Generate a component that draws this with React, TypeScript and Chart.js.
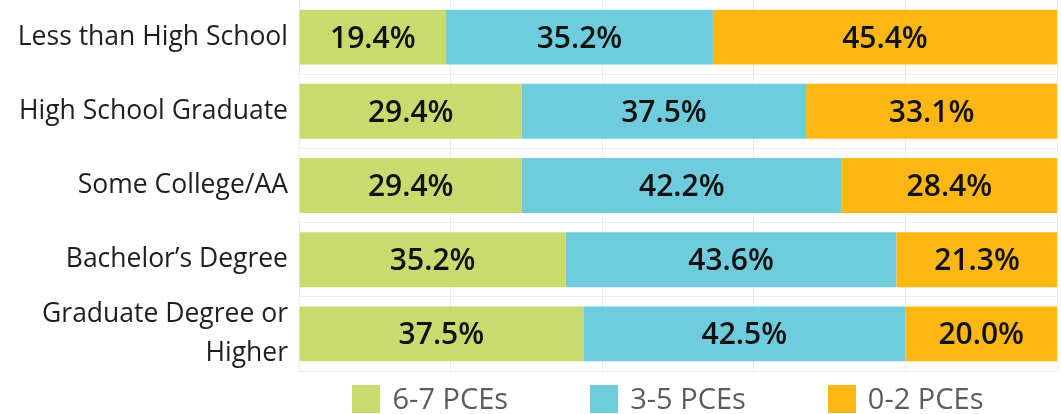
import React, { useEffect, useRef } from 'react';
import { Chart, registerables } from 'chart.js';

Chart.register(...registerables);

const categories: (string | string[])[] = [
  'Less than High School',
  'High School Graduate',
  'Some College/AA',
  'Bachelor’s Degree',
  ['Graduate Degree or', 'Higher'],
];
const seriesNames = ['6-7 PCEs', '3-5 PCEs', '0-2 PCEs'];
const pce67 = [19.4, 29.4, 29.4, 35.2, 37.5];
const pce35 = [35.2, 37.5, 42.2, 43.6, 42.5];
const pce02 = [45.4, 33.1, 28.4, 21.3, 20.0];
const seriesColors = ['#C9DB6E', '#6FCCDD', '#FDB714'];
const xMin = 0;
const xMax = 100;
const xStep = 20;

const FONT = '"Open Sans", "Noto Sans", sans-serif';

const segmentLabels = {
  id: 'segmentLabels',
  afterDatasetsDraw(chart: any) {
    const ctx = chart.ctx;
    ctx.save();
    ctx.font = `600 30px ${FONT}`;
    ctx.fillStyle = '#111111';
    ctx.textAlign = 'center';
    ctx.textBaseline = 'alphabetic';
    chart.data.datasets.forEach((ds: any, di: number) => {
      const meta = chart.getDatasetMeta(di);
      meta.data.forEach((el: any, i: number) => {
        const p = el.getProps(['x', 'y', 'base'], true);
        ctx.fillText(Number(ds.data[i]).toFixed(1) + '%', (p.x + p.base) / 2, p.y + 10.5);
      });
    });
    ctx.restore();
  },
};

const bottomLegend = {
  id: 'bottomLegend',
  afterDraw(chart: any) {
    const ctx = chart.ctx;
    const area = chart.chartArea;
    const box = 28;
    const textGap = 12;
    const itemGap = 82;
    ctx.save();
    ctx.font = `29px ${FONT}`;
    const items = chart.data.datasets.map((ds: any) => ({
      label: ds.label,
      color: ds.backgroundColor,
      w: box + textGap + ctx.measureText(ds.label).width,
    }));
    const total = items.reduce((s: number, it: any) => s + it.w, 0) + itemGap * (items.length - 1);
    let x = (area.left + area.right) / 2 - total / 2 - 10;
    const top = area.bottom + 14;
    ctx.textAlign = 'left';
    ctx.textBaseline = 'alphabetic';
    items.forEach((it: any) => {
      ctx.fillStyle = it.color;
      ctx.fillRect(Math.round(x), top, box, box);
      ctx.fillStyle = '#5c5c5c';
      ctx.fillText(it.label, x + box + textGap, top + 24);
      x += it.w + itemGap;
    });
    ctx.restore();
  },
};

export default function App() {
  const ref = useRef<HTMLCanvasElement | null>(null);

  useEffect(() => {
    if (!ref.current) return;
    const values = [pce67, pce35, pce02];
    const chart = new Chart(ref.current, {
      type: 'bar',
      data: {
        labels: categories,
        datasets: seriesNames.map((name, i) => ({
          label: name,
          data: values[i],
          backgroundColor: seriesColors[i],
          borderWidth: 0,
          barPercentage: 0.74,
          categoryPercentage: 1,
        })),
      },
      options: {
        indexAxis: 'y',
        responsive: false,
        animation: false,
        layout: { padding: { top: 0, right: 4, bottom: 43, left: 0 } },
        plugins: {
          legend: { display: false },
          tooltip: { enabled: false },
        },
        scales: {
          x: {
            stacked: true,
            min: xMin,
            max: xMax,
            ticks: { display: false, stepSize: xStep },
            grid: { color: '#ebebeb', drawTicks: false, lineWidth: 1 },
            border: { display: false },
            afterFit: (scale: any) => {
              scale.paddingLeft = 0;
              scale.paddingRight = 0;
              scale.height = 0;
            },
          },
          y: {
            stacked: true,
            afterFit: (scale: any) => {
              scale.width = 299;
              scale.paddingTop = 0;
              scale.paddingBottom = 0;
            },
            ticks: {
              autoSkip: false,
              color: '#1e1e1e',
              padding: 11,
              font: { family: FONT, size: 26.5, lineHeight: 1.45 },
            },
            grid: {
              offset: true,
              drawTicks: false,
              color: (c: any) => (c.index === 0 || c.index === categories.length ? 'rgba(0,0,0,0)' : '#eeeeee'),
            },
            border: { display: false },
          },
        },
      },
      plugins: [segmentLabels, bottomLegend],
    });
    return () => chart.destroy();
  }, []);

  return (
    <div style={{ position: 'fixed', left: 0, top: 0, width: 1061, height: 414, background: '#fff' }}>
      <canvas ref={ref} width={1061} height={414} />
    </div>
  );
}
